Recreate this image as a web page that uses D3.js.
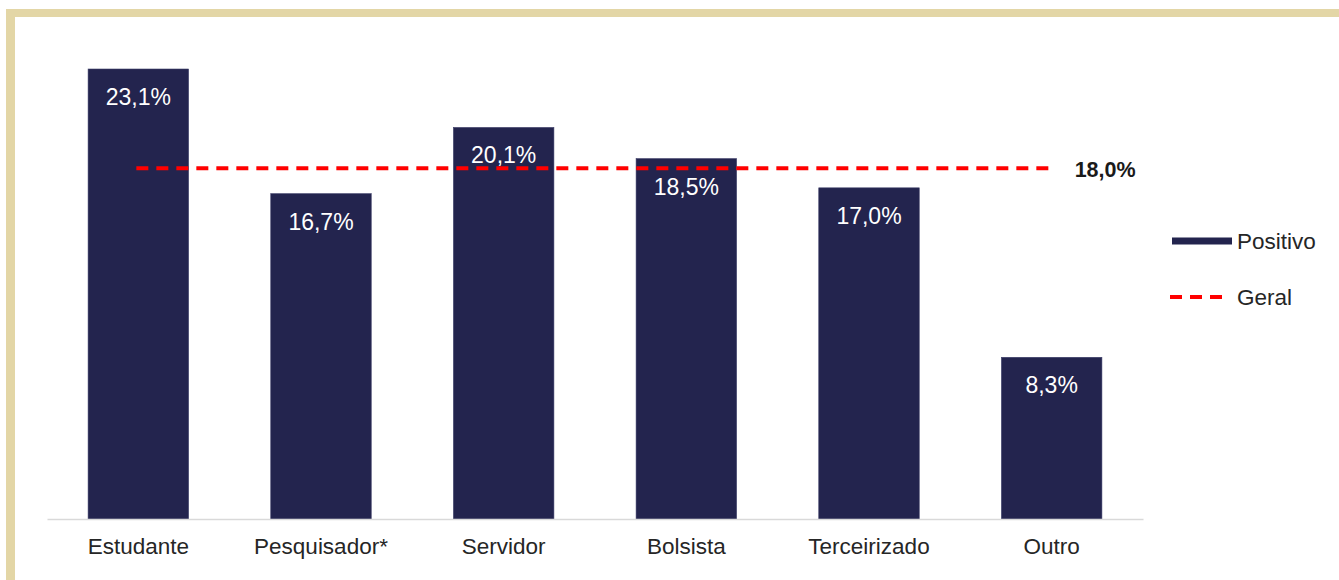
<!DOCTYPE html>
<html><head><meta charset="utf-8">
<script src="https://cdn.jsdelivr.net/npm/d3@7"></script>
<style>body{margin:0;background:#fff;}svg{display:block;}</style>
</head><body>
<svg id="c" width="1339" height="580"></svg>
<script>
const categories = ["Estudante","Pesquisador*","Servidor","Bolsista","Terceirizado","Outro"];
const positivo = [23.1,16.7,20.1,18.5,17.0,8.3];
const geral = 18.0;
const seriesNames = ["Positivo","Geral"];

const fmt = v => v.toFixed(1).replace(".", ",") + "%";
const svg = d3.select("#c");
const font = "'Liberation Sans', Arial, sans-serif";

// frame
svg.append("rect").attr("x",6).attr("y",9).attr("width",1339).attr("height",8).attr("fill","#e3d6a6");
svg.append("rect").attr("x",6).attr("y",9).attr("width",9).attr("height",580).attr("fill","#e3d6a6");

const x = d3.scaleBand().domain(categories).range([47,1143]).paddingInner(0.45).paddingOuter(0.225);
const y = d3.scaleLinear().domain([0,25]).range([519,519-25*19.48]);

// bars
svg.selectAll("rect.bar").data(categories).enter().append("rect")
  .attr("class","bar")
  .attr("x",d=>x(d)).attr("width",x.bandwidth())
  .attr("y",(d,i)=>y(positivo[i])).attr("height",(d,i)=>y(0)-y(positivo[i]))
  .attr("fill","#23244e").attr("stroke","#3a3b66").attr("stroke-width",0.6);

// axis
const ax = svg.append("g").attr("transform","translate(0,519)").call(d3.axisBottom(x).tickSize(0).tickPadding(19));
ax.select(".domain").attr("stroke","#d9d9d9").attr("stroke-width",1.5);
ax.selectAll("text").attr("font-family",font).attr("font-size",22.5).attr("fill","#262626");

// labels
svg.selectAll("text.val").data(categories).enter().append("text")
  .attr("class","val")
  .attr("x",d=>x(d)+x.bandwidth()/2)
  .attr("y",(d,i)=>y(positivo[i])+36)
  .attr("text-anchor","middle").attr("font-family",font).attr("font-size",23)
  .attr("fill","#ffffff").text((d,i)=>fmt(positivo[i]));

// geral line
const xs = x(categories[0])+x.bandwidth()/2 - 2;
const xe = x(categories[categories.length-1]) + x.bandwidth()/2 + 3;
svg.append("line").attr("x1",xs).attr("x2",xe).attr("y1",y(geral)).attr("y2",y(geral))
  .attr("stroke","#ff0000").attr("stroke-width",4).attr("stroke-dasharray","12,8");
svg.append("text").attr("x",xe+20).attr("y",y(geral)+9).attr("font-family",font)
  .attr("font-size",21.5).attr("font-weight","bold").attr("fill","#1a1a1a").text(fmt(geral));

// legend
const lg = svg.append("g");
lg.append("line").attr("x1",1172).attr("x2",1232).attr("y1",241).attr("y2",241).attr("stroke","#23244e").attr("stroke-width",7);
lg.append("text").attr("x",1237).attr("y",249).attr("font-family",font).attr("font-size",22.5).attr("fill","#262626").text(seriesNames[0]);
lg.append("line").attr("x1",1170).attr("x2",1228).attr("y1",297).attr("y2",297).attr("stroke","#ff0000").attr("stroke-width",4).attr("stroke-dasharray","12,8");
lg.append("text").attr("x",1237).attr("y",305).attr("font-family",font).attr("font-size",22.5).attr("fill","#262626").text(seriesNames[1]);
</script>
</body></html>
